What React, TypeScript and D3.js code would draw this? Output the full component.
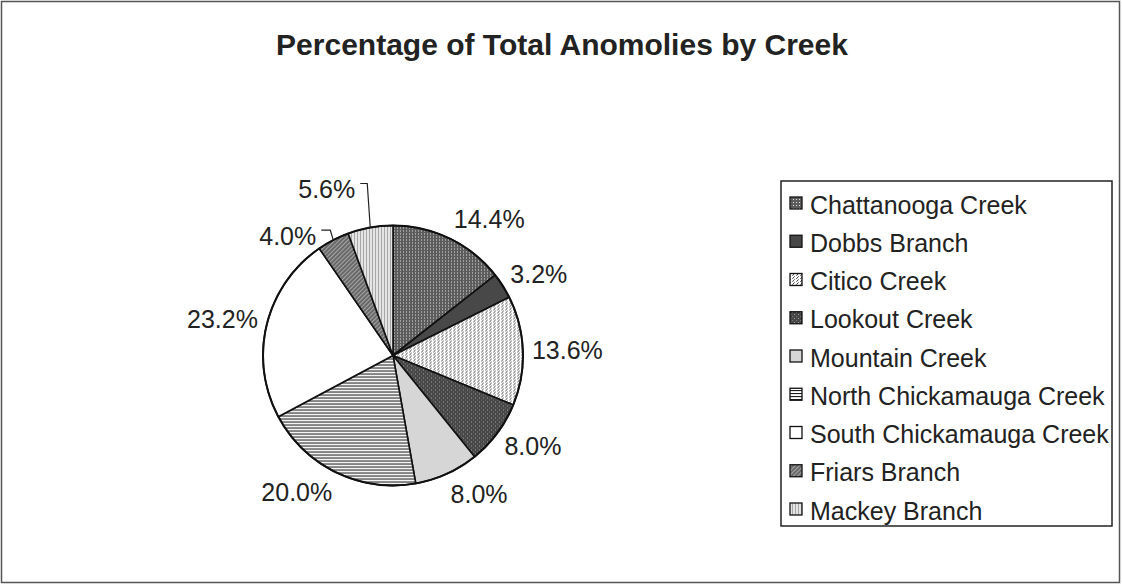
import React from "react";
import * as d3 from "d3";

const categories = [
  "Chattanooga Creek",
  "Dobbs Branch",
  "Citico Creek",
  "Lookout Creek",
  "Mountain Creek",
  "North Chickamauga Creek",
  "South Chickamauga Creek",
  "Friars Branch",
  "Mackey Branch",
];
const values = [14.4, 3.2, 13.6, 8.0, 8.0, 20.0, 23.2, 4.0, 5.6];
const title = "Percentage of Total Anomolies by Creek";

// labels that were dragged away from the slice and carry a leader line: offset from arc edge point
const leaderLabels: Record<string, [number, number]> = {
  "Friars Branch": [-17, -4],
  "Mackey Branch": [-15, -38],
};

const W = 1122;
const H = 587;
const cx = 393;
const cy = 355.5;
const R = 130;
const FONT = "'Liberation Sans', Arial, Helvetica, sans-serif";

const patternIds = ["pChatt", "pDobbs", "pCitico", "pLookout", "pMountain", "pNorth", "pSouth", "pFriars", "pMackey"];

function Patterns() {
  return (
    <defs>
      <pattern id="pChatt" width={3} height={3} patternUnits="userSpaceOnUse">
        <rect width={3} height={3} fill="#5c5c5c" />
        <rect x={1} y={1} width={1} height={1} fill="#e2e2e2" />
      </pattern>
      <pattern id="pDobbs" width={4} height={4} patternUnits="userSpaceOnUse">
        <rect width={4} height={4} fill="#484848" />
      </pattern>
      <pattern id="pCitico" width={4} height={3} patternUnits="userSpaceOnUse">
        <rect width={4} height={3} fill="#ffffff" />
        <path d="M0.4,2.8 L2.6,0.3" stroke="#2a2a2a" strokeWidth={0.9} />
      </pattern>
      <pattern id="pLookout" width={4} height={4} patternUnits="userSpaceOnUse">
        <rect width={4} height={4} fill="#474747" />
        <rect x={2} y={2} width={1} height={1} fill="#a0a0a0" />
        <rect x={0} y={0} width={1} height={1} fill="#7a7a7a" />
      </pattern>
      <pattern id="pMountain" width={4} height={4} patternUnits="userSpaceOnUse">
        <rect width={4} height={4} fill="#d6d6d6" />
      </pattern>
      <pattern id="pNorth" width={3} height={3} patternUnits="userSpaceOnUse">
        <rect width={3} height={3} fill="#ffffff" />
        <rect x={0} y={0} width={3} height={1.1} fill="#1e1e1e" />
      </pattern>
      <pattern id="pSouth" width={4} height={4} patternUnits="userSpaceOnUse">
        <rect width={4} height={4} fill="#ffffff" />
      </pattern>
      <pattern id="pFriars" width={3} height={3} patternUnits="userSpaceOnUse" patternTransform="rotate(45)">
        <rect width={3} height={3} fill="#626262" />
        <rect x={0} y={0} width={1.2} height={3} fill="#a4a4a4" />
      </pattern>
      <pattern id="pMackey" width={3} height={3} patternUnits="userSpaceOnUse">
        <rect width={3} height={3} fill="#e4e4e4" />
        <rect x={0} y={0} width={1} height={3} fill="#a8a8a8" />
      </pattern>
    </defs>
  );
}

export default function App() {
  const pie = d3
    .pie<number>()
    .sort(null)
    .value((d) => d)
    .startAngle(0)
    .endAngle(2 * Math.PI);
  const arcs = pie(values);
  const arcGen = d3.arc<d3.PieArcDatum<number>>().innerRadius(0).outerRadius(R);
  const fmt = (v: number) => d3.format(".1f")(v) + "%";

  const labelR = 139;
  const labelH = 26;

  const legendX = 781;
  const legendY = 181;
  const legendW = 331;
  const legendH = 345;
  const rowY = d3.scalePoint<string>().domain(categories).range([205, 511]);

  return (
    <div style={{ position: "fixed", left: 0, top: 0, width: W, height: H, background: "#fff" }}>
      <svg width={W} height={H} style={{ display: "block" }} fontFamily={FONT}>
        <Patterns />
        <rect x={0} y={0} width={W} height={H} fill="#fff" />
        <rect x={1.5} y={1.5} width={1118} height={581} fill="none" stroke="#555" strokeWidth={1.5} />

        <text x={562} y={55} textAnchor="middle" fontSize={30} fontWeight="bold" fill="#222">
          {title}
        </text>

        <g transform={`translate(${cx},${cy})`}>
          {arcs.map((a, i) => (
            <path
              key={categories[i]}
              d={arcGen(a) || ""}
              fill={`url(#${patternIds[i]})`}
              stroke="#111"
              strokeWidth={1.6}
              strokeLinejoin="round"
            />
          ))}
          <circle r={R} fill="none" stroke="#111" strokeWidth={2} />
        </g>

        {arcs.map((a, i) => {
          const mid = (a.startAngle + a.endAngle) / 2;
          const s = Math.sin(mid);
          const c = Math.cos(mid);
          const name = categories[i];
          const text = fmt(values[i]);
          if (leaderLabels[name]) {
            const ex = cx + R * s;
            const ey = cy - R * c;
            const [dx, dy] = leaderLabels[name];
            const tx = ex + dx;
            const ty = ey + dy;
            const yLine = ty - 6;
            const path = `M${ex},${ey} L${ex - 3},${yLine} L${tx + 5},${yLine}`;
            return (
              <g key={name}>
                <path d={path} fill="none" stroke="#222" strokeWidth={1.2} />
                <text x={tx} y={ty + 8.8} textAnchor="end" fontSize={25} fill="#222">
                  {text}
                </text>
              </g>
            );
          }
          const px = cx + labelR * s;
          const py = cy - labelR * c - (c * labelH) / 2;
          const anchor = s > 0.05 ? "start" : s < -0.05 ? "end" : "middle";
          return (
            <text key={name} x={px} y={py + 8.8} textAnchor={anchor} fontSize={25} fill="#222">
              {text}
            </text>
          );
        })}

        <rect x={legendX} y={legendY} width={legendW} height={legendH} fill="#fff" stroke="#222" strokeWidth={1.5} />
        {categories.map((name, i) => {
          const y = rowY(name) as number;
          return (
            <g key={name}>
              <rect x={790} y={y - 8} width={12} height={12} fill={`url(#${patternIds[i]})`} stroke="#111" strokeWidth={1.3} />
              <text x={810} y={y + 8.5} fontSize={25} fill="#222">
                {name}
              </text>
            </g>
          );
        })}
      </svg>
    </div>
  );
}
